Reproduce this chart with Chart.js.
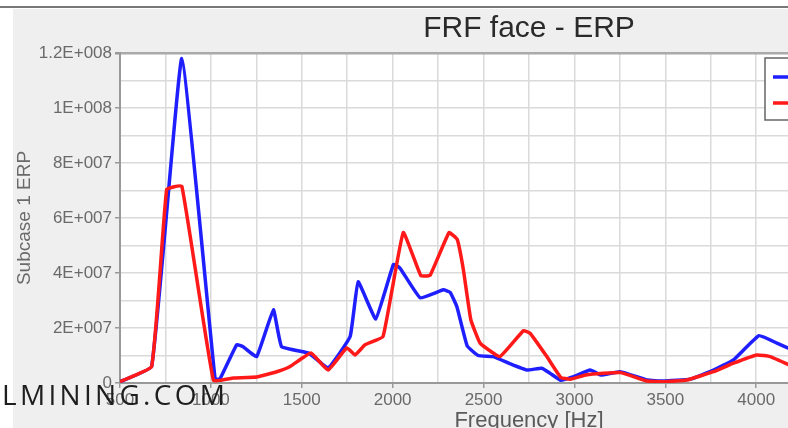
<!DOCTYPE html>
<html>
<head>
<meta charset="utf-8">
<script src="https://cdn.jsdelivr.net/npm/chart.js@4.4.0/dist/chart.umd.min.js"></script>
<style>
  html, body { margin: 0; padding: 0; background: #fff; overflow: hidden; }
  #wrap { position: relative; width: 788px; height: 428px; overflow: hidden; }
  #myChart { position: absolute; left: 0; top: 0; }
  #mark { position: absolute; left: 2px; top: 380px; font-family: "Open Sans", sans-serif; font-size: 28px; line-height: 1; letter-spacing: 3.3px; color: #1e1e1e; white-space: nowrap; }
</style>
</head>
<body>
<div id="wrap">
  <canvas id="myChart" width="960" height="440"></canvas>
  <div id="mark">LMINING.COM</div>
</div>
<script>
// 周波数 [Hz] と ERP 値
const blueFreq = [500, 674, 840, 1023, 1050, 1142, 1177, 1252, 1344, 1389, 1540, 1645, 1766, 1810, 1907, 2004, 2040, 2151, 2279, 2316, 2353, 2410, 2470, 2554, 2646, 2738, 2820, 2867, 2925, 2995, 3087, 3145, 3252, 3399, 3490, 3637, 3765, 3875, 4015, 4114, 4200];
const blueErp = [0.05e7, 0.6e7, 11.8e7, 0.15e7, 0.15e7, 1.39e7, 1.32e7, 0.96e7, 2.66e7, 1.32e7, 1.08e7, 0.55e7, 1.69e7, 3.68e7, 2.33e7, 4.31e7, 4.18e7, 3.1e7, 3.39e7, 3.3e7, 2.78e7, 1.35e7, 1.0e7, 0.96e7, 0.7e7, 0.47e7, 0.54e7, 0.35e7, 0.1e7, 0.23e7, 0.47e7, 0.29e7, 0.41e7, 0.11e7, 0.07e7, 0.14e7, 0.47e7, 0.84e7, 1.72e7, 1.45e7, 1.2e7];

const redFreq = [500, 674, 757, 840, 1014, 1123, 1252, 1362, 1436, 1550, 1645, 1748, 1793, 1848, 1947, 2058, 2155, 2206, 2310, 2355, 2389, 2430, 2481, 2590, 2719, 2756, 2848, 2925, 2977, 3068, 3252, 3399, 3490, 3619, 3765, 3875, 4004, 4077, 4200];
const redErp = [0.05e7, 0.6e7, 7.04e7, 7.16e7, 0.1e7, 0.18e7, 0.22e7, 0.41e7, 0.6e7, 1.09e7, 0.47e7, 1.28e7, 1.02e7, 1.39e7, 1.69e7, 5.47e7, 3.9e7, 3.92e7, 5.47e7, 5.22e7, 4.12e7, 2.3e7, 1.45e7, 0.96e7, 1.9e7, 1.81e7, 0.96e7, 0.2e7, 0.14e7, 0.3e7, 0.38e7, 0.07e7, 0.05e7, 0.11e7, 0.41e7, 0.72e7, 1.02e7, 0.96e7, 0.6e7];

const seriesNames = ['Subcase 1 - original', 'Subcase 1 - modified'];
const yTicks = [0, 2e7, 4e7, 6e7, 8e7, 1e8, 1.2e8];
const xTicks = [500, 1000, 1500, 2000, 2500, 3000, 3500, 4000, 4500, 5000];

const toPoints = (fs, vs) => fs.map((f, i) => ({ x: f, y: vs[i] }));

// 1.2E+008 形式
function sci(v) {
  if (v === 0) return '0';
  const e = Math.floor(Math.log10(v) + 1e-9);
  const m = Math.round(v / Math.pow(10, e) * 10) / 10;
  return m + 'E+' + String(e).padStart(3, '0');
}

const frame = {
  id: 'frame',
  beforeDraw(chart) {
    const c = chart.ctx, a = chart.chartArea;
    c.save();
    c.fillStyle = '#fff';
    c.fillRect(0, 0, chart.width, chart.height);
    c.fillStyle = '#efefef';
    c.fillRect(13, 9, chart.width, chart.height);
    c.fillStyle = '#777';
    c.fillRect(0, 6, chart.width, 2);
    c.fillStyle = '#fff';
    c.fillRect(a.left, a.top, a.right - a.left, a.bottom - a.top);
    c.font = '30px "Liberation Sans", Arial, sans-serif';
    c.fillStyle = '#2a2a2a';
    c.textAlign = 'center';
    c.textBaseline = 'alphabetic';
    c.fillText('FRF face - ERP', (a.left + a.right) / 2, 37);
    c.restore();
  },
  afterDraw(chart) {
    const c = chart.ctx, a = chart.chartArea;
    const lx = a.right - 173, ly = a.top + 5;
    c.save();
    c.fillStyle = '#fff';
    c.fillRect(lx, ly, 165, 62);
    c.strokeStyle = '#666';
    c.lineWidth = 1.5;
    c.strokeRect(lx, ly, 165, 62);
    chart.data.datasets.forEach((ds, i) => {
      const y = ly + 19 + i * 26;
      c.strokeStyle = ds.borderColor;
      c.lineWidth = 3.5;
      c.beginPath();
      c.moveTo(lx + 8, y);
      c.lineTo(lx + 42, y);
      c.stroke();
      c.fillStyle = '#333';
      c.font = '15px "Liberation Sans", Arial, sans-serif';
      c.textBaseline = 'middle';
      c.fillText(ds.label, lx + 48, y);
    });
    c.restore();
  }
};

const data = {
  datasets: [{
    label: seriesNames[0],
    data: toPoints(blueFreq, blueErp),
    borderColor: 'rgb(30, 30, 255)',
    borderWidth: 3.5,
    pointRadius: 0,
    tension: 0.1,
    order: 2
  }, {
    label: seriesNames[1],
    data: toPoints(redFreq, redErp),
    borderColor: 'rgb(255, 25, 25)',
    borderWidth: 3.5,
    pointRadius: 0,
    tension: 0.1,
    order: 1
  }]
};

const config = {
  type: 'line',
  data: data,
  options: {
    responsive: false,
    animation: false,
    layout: { padding: { left: 0, top: 53, right: 22, bottom: 0 } },
    plugins: { legend: { display: false }, title: { display: false }, tooltip: { enabled: false } },
    scales: {
      x: {
        type: 'linear',
        min: 500,
        max: 5000,
        afterFit: (s) => { s.height = 57; },
        ticks: {
          stepSize: 250,
          autoSkip: false,
          maxRotation: 0,
          padding: 2,
          color: '#6a6a6a',
          font: { family: '"Liberation Sans", Arial, sans-serif', size: 17 },
          callback: (v) => xTicks.includes(v) ? String(v) : ''
        },
        grid: {
          color: '#dadada',
          lineWidth: 1.5,
          tickLength: 5,
          tickColor: (ctx) => xTicks.includes(ctx.tick && ctx.tick.value) ? '#999' : 'rgba(0,0,0,0)'
        },
        border: { color: '#999', width: 2 },
        title: {
          display: true,
          text: 'Frequency [Hz]',
          color: '#5a5a5a',
          font: { family: '"Liberation Sans", Arial, sans-serif', size: 22 },
          padding: { top: 0, bottom: 6 }
        }
      },
      y: {
        min: 0,
        max: 1.2e8,
        afterFit: (s) => { s.width = 120; },
        ticks: {
          stepSize: 1e7,
          autoSkip: false,
          padding: 3,
          color: '#6a6a6a',
          font: { family: '"Liberation Sans", Arial, sans-serif', size: 17 },
          callback: (v) => yTicks.includes(v) ? sci(v) : ''
        },
        grid: {
          color: (ctx) => (ctx.tick && ctx.tick.value === 1.2e8) ? '#aaa' : '#dadada',
          lineWidth: (ctx) => (ctx.tick && ctx.tick.value === 1.2e8) ? 2.5 : 1.5,
          tickLength: 5,
          tickColor: (ctx) => yTicks.includes(ctx.tick && ctx.tick.value) ? '#999' : 'rgba(0,0,0,0)'
        },
        border: { color: '#999', width: 2 },
        title: {
          display: true,
          text: 'Subcase 1 ERP',
          color: '#6a6a6a',
          font: { family: '"Liberation Sans", Arial, sans-serif', size: 19 },
          padding: { top: 13, bottom: 0 }
        }
      }
    }
  },
  plugins: [frame]
};

const myChart = new Chart(document.getElementById('myChart'), config);
</script>
</body>
</html>
